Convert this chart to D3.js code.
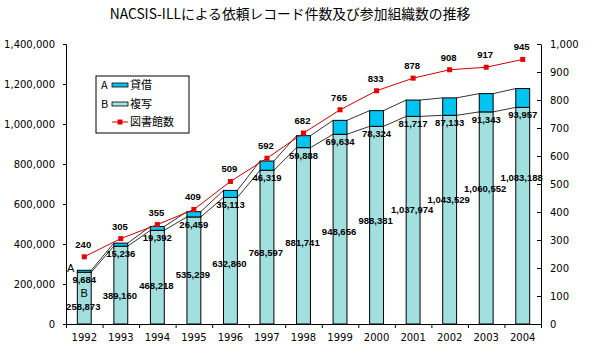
<!DOCTYPE html>
<html lang="ja">
<head>
<meta charset="UTF-8">
<title>NACSIS-ILLによる依頼レコード件数及び参加組織数の推移</title>
<script src="https://d3js.org/d3.v7.min.js"></script>
<style>
  body { margin: 0; background: #fff; }
  svg { display: block; }
  .tick text { font-family: "DejaVu Sans", sans-serif; font-size: 10px; fill: #000; }
  .val { font-family: "Liberation Sans", Arial, sans-serif; font-size: 9.5px; font-weight: bold; fill: #000; text-anchor: middle; }
  .jp { font-family: "Noto Sans CJK JP", sans-serif; fill: #000; }
  .ab { font-family: "Liberation Sans", Arial, sans-serif; font-size: 11px; fill: #000; }
</style>
</head>
<body>
<svg id="chart" width="600" height="351"></svg>
<script>
// データ
const years = ["1992","1993","1994","1995","1996","1997","1998","1999","2000","2001","2002","2003","2004"];
const fukusha = [258873, 389160, 468218, 535239, 632860, 768597, 881741, 948656, 988381, 1037974, 1043529, 1060552, 1083188]; // B 複写
const taishaku = [9684, 15236, 19392, 26459, 35113, 46319, 59888, 69634, 78324, 81717, 87133, 91343, 93957]; // A 貸借
const libraries = [240, 305, 355, 409, 509, 592, 682, 765, 833, 878, 908, 917, 945]; // 図書館数
const leftTicks = [0, 200000, 400000, 600000, 800000, 1000000, 1200000, 1400000];
const rightTicks = [0, 100, 200, 300, 400, 500, 600, 700, 800, 900, 1000];

const colB = "#a2e0e0", colA = "#00c4f2", colLine = "#cc0000";

const svg = d3.select("#chart");
const pLeft = 66, pRight = 541, pTop = 44, pBottom = 324;

const x = d3.scaleBand().domain(years).range([pLeft, pRight]).paddingInner(0.62).paddingOuter(0.31);
const y = d3.scaleLinear().domain([0, 1400000]).range([pBottom, pTop]);
const yR = d3.scaleLinear().domain([0, 1000]).range([pBottom, pTop]);
const bw = x.bandwidth();
const cx = d => x(d) + bw / 2;

// タイトル
svg.append("text").attr("class", "jp")
  .attr("x", 290).attr("y", 19)
  .attr("text-anchor", "middle").attr("font-size", 13.8)
  .text("NACSIS-ILLによる依頼レコード件数及び参加組織数の推移");

// 軸
svg.append("g").attr("transform", `translate(${pLeft},0)`)
  .call(d3.axisLeft(y).tickValues(leftTicks).tickFormat(d3.format(",")).tickSize(3).tickPadding(8))
  .call(g => g.selectAll("path, line").attr("stroke", "#000"));

svg.append("g").attr("transform", `translate(${pRight},0)`)
  .call(d3.axisRight(yR).tickValues(rightTicks).tickFormat(d3.format(",")).tickSizeInner(-4).tickSizeOuter(0).tickPadding(9))
  .call(g => g.selectAll("path, line").attr("stroke", "#000"));

const idx = d3.scaleLinear().domain([0, years.length]).range([pLeft, pRight]);
svg.append("g").attr("transform", `translate(0,${pBottom})`)
  .call(d3.axisBottom(idx).tickValues(d3.range(years.length + 1)).tickFormat("").tickSize(4).tickSizeOuter(0))
  .call(g => g.selectAll("path, line").attr("stroke", "#000"));

svg.append("g").attr("transform", `translate(0,${pBottom})`)
  .call(d3.axisBottom(x).tickSize(0).tickPadding(10))
  .call(g => g.select(".domain").remove());

// 系列線
const rows = years.map((yr, i) => ({ i, yr, b: fukusha[i], a: taishaku[i], t: fukusha[i] + taishaku[i], lib: libraries[i] }));
const pairs = d3.pairs(rows);
["b", "t"].forEach(k => {
  svg.append("g").selectAll("line").data(pairs).enter().append("line")
    .attr("x1", d => x(d[0].yr) + bw).attr("y1", d => y(d[0][k]))
    .attr("x2", d => x(d[1].yr)).attr("y2", d => y(d[1][k]))
    .attr("stroke", "#000").attr("stroke-width", 0.8);
});

// 棒
const bars = svg.append("g");
bars.selectAll(".b").data(rows).enter().append("rect")
  .attr("x", d => x(d.yr)).attr("width", bw)
  .attr("y", d => y(d.b)).attr("height", d => y(0) - y(d.b))
  .attr("fill", colB).attr("stroke", "#000").attr("stroke-width", 1);
bars.selectAll(".a").data(rows).enter().append("rect")
  .attr("x", d => x(d.yr)).attr("width", bw)
  .attr("y", d => y(d.t)).attr("height", d => y(d.b) - y(d.t))
  .attr("fill", colA).attr("stroke", "#000").attr("stroke-width", 1);

// 図書館数の折れ線
svg.append("path").datum(rows)
  .attr("d", d3.line().x(d => cx(d.yr)).y(d => yR(d.lib)))
  .attr("fill", "none").attr("stroke", colLine).attr("stroke-width", 1);
svg.selectAll(".mk").data(rows).enter().append("rect")
  .attr("x", d => cx(d.yr) - 2.5).attr("y", d => yR(d.lib) - 2.5)
  .attr("width", 5).attr("height", 5).attr("fill", "#e80000");

// ラベル
const fmt = d3.format(",");
svg.selectAll(".lib").data(rows).enter().append("text").attr("class", "val")
  .attr("x", d => cx(d.yr) - 1).attr("y", d => yR(d.lib) - 9)
  .text(d => d.lib);
svg.selectAll(".la").data(rows).enter().append("text").attr("class", "val")
  .attr("x", d => cx(d.yr)).attr("y", d => y(d.b) + 11)
  .text(d => fmt(d.a));
// 複写ラベルは原図同様に斜めに並べる
const labY = d3.scaleLinear().domain([0, years.length - 1]).range([y(90000), y(735000)]);
svg.selectAll(".lb").data(rows).enter().append("text").attr("class", "val")
  .attr("x", d => cx(d.yr) - 1).attr("y", d => labY(d.i) + 4)
  .text(d => fmt(d.b));

// 1992 の A / B 表示
svg.append("text").attr("class", "ab").attr("font-size", 12)
  .attr("x", x(years[0]) - 3).attr("y", y(rows[0].t) + 2).attr("text-anchor", "end").text("A");
svg.append("text").attr("class", "ab")
  .attr("x", cx(years[0])).attr("y", (y(0) + y(rows[0].b)) / 2 - 1).attr("text-anchor", "middle").text("B");

// 凡例
const lg = svg.append("g").attr("transform", "translate(96,76)");
lg.append("rect").attr("width", 93).attr("height", 57).attr("fill", "#fff").attr("stroke", "#000");
const items = [{ k: "A", name: "貸借", c: colA }, { k: "B", name: "複写", c: colB }];
items.forEach((it, i) => {
  const yy = 9 + i * 19;
  lg.append("text").attr("class", "jp").attr("font-size", 11).attr("x", 5).attr("y", yy + 4).text(it.k);
  lg.append("rect").attr("x", 16).attr("y", yy - 2).attr("width", 16).attr("height", 4)
    .attr("fill", it.c).attr("stroke", "#000").attr("stroke-width", 0.8);
  lg.append("text").attr("class", "jp").attr("font-size", 11).attr("x", 34).attr("y", yy + 4).text(it.name);
});
lg.append("line").attr("x1", 16).attr("x2", 32).attr("y1", 46).attr("y2", 46).attr("stroke", colLine);
lg.append("rect").attr("x", 21.5).attr("y", 43.5).attr("width", 5).attr("height", 5).attr("fill", "#e80000");
lg.append("text").attr("class", "jp").attr("font-size", 11).attr("x", 34).attr("y", 50).text("図書館数");
</script>
</body>
</html>
